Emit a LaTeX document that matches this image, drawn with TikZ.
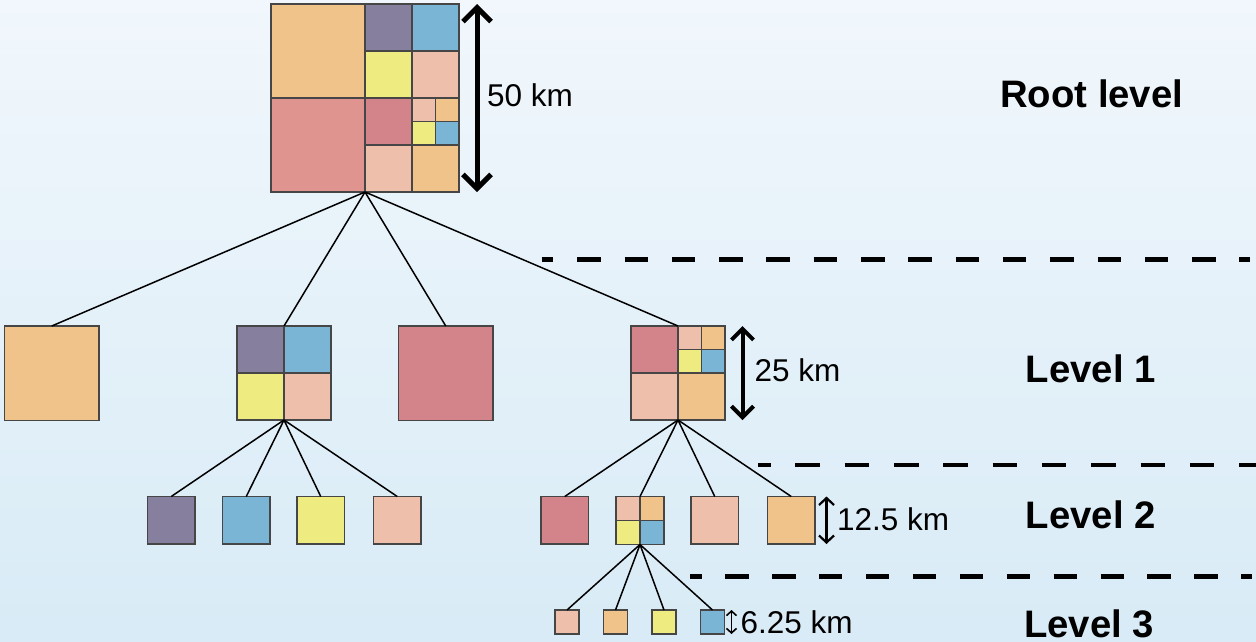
\documentclass[tikz,border=0pt]{standalone}
\usepackage{fontspec}
\setmainfont{Liberation Sans}
\usetikzlibrary{arrows.meta}

\definecolor{bgTop}{RGB}{241,247,252}
\definecolor{bgBot}{RGB}{216,235,246}
\definecolor{cBorder}{RGB}{70,70,70}
\definecolor{cOrange}{RGB}{239,195,138}
\definecolor{cPurple}{RGB}{135,127,158}
\definecolor{cBlue}{RGB}{122,181,213}
\definecolor{cYellow}{RGB}{238,236,128}
\definecolor{cSalmon}{RGB}{238,192,172}
\definecolor{cRedBig}{RGB}{224,148,144}
\definecolor{cRed}{RGB}{210,132,138}

\begin{document}
\begin{tikzpicture}[x=1pt,y=-1pt,
  cell/.style={draw=cBorder, line width=1.1pt, inner sep=0pt, outer sep=0pt,
               anchor=north west, minimum size=#1},
  frame/.style={draw=cBorder, line width=1.2pt, inner sep=0pt, outer sep=0pt,
                anchor=north west, minimum size=#1},
  link/.style={black, line width=1.5pt},
  sepline/.style={black, line width=4.8pt},
  dim/.style={black, line width=#1},
  lbl/.style={font=\fontsize{31.5}{34}\selectfont, inner sep=0pt, anchor=base west},
  lvl/.style={font=\fontsize{38.3}{41}\selectfont\bfseries, inner sep=0pt, anchor=base west}]

% background
\shade[top color=bgTop, bottom color=bgBot] (0,0) rectangle (1256,641);
\useasboundingbox (0,0) rectangle (1256,641);

% ---------- root cell (50 km) ----------
\node[cell=94pt, fill=cOrange] (r-tl) at (271,4) {};
\node[cell=47pt, fill=cPurple] (r-tr-a) at (365,4) {};
\node[cell=47pt, fill=cBlue]   (r-tr-b) at (412,4) {};
\node[cell=47pt, fill=cYellow] (r-tr-c) at (365,51) {};
\node[cell=47pt, fill=cSalmon] (r-tr-d) at (412,51) {};
\node[cell=94pt, fill=cRedBig] (r-bl) at (271,98) {};
\node[cell=47pt, fill=cRed]    (r-br-a) at (365,98) {};
\node[cell=23.5pt, fill=cSalmon] (r-br-b1) at (412,98) {};
\node[cell=23.5pt, fill=cOrange] (r-br-b2) at (435.5,98) {};
\node[cell=23.5pt, fill=cYellow] (r-br-b3) at (412,121.5) {};
\node[cell=23.5pt, fill=cBlue]   (r-br-b4) at (435.5,121.5) {};
\node[cell=47pt, fill=cSalmon] (r-br-c) at (365,145) {};
\node[cell=47pt, fill=cOrange] (r-br-d) at (412,145) {};
\node[frame=188pt] (root) at (271,4) {};

% ---------- level 1 (25 km) ----------
\node[cell=94.5pt, fill=cOrange] (l1a) at (4.5,326) {};

\node[cell=47pt, fill=cPurple] (l1b-a) at (237,326) {};
\node[cell=47pt, fill=cBlue]   (l1b-b) at (284,326) {};
\node[cell=47pt, fill=cYellow] (l1b-c) at (237,373) {};
\node[cell=47pt, fill=cSalmon] (l1b-d) at (284,373) {};
\node[frame=94pt] (l1b) at (237,326) {};

\node[cell=94.5pt, fill=cRed] (l1c) at (398.5,326) {};

\node[cell=47pt, fill=cRed] (l1d-a) at (631,326) {};
\node[cell=23.5pt, fill=cSalmon] (l1d-b1) at (678,326) {};
\node[cell=23.5pt, fill=cOrange] (l1d-b2) at (701.5,326) {};
\node[cell=23.5pt, fill=cYellow] (l1d-b3) at (678,349.5) {};
\node[cell=23.5pt, fill=cBlue]   (l1d-b4) at (701.5,349.5) {};
\node[cell=47pt, fill=cSalmon] (l1d-c) at (631,373) {};
\node[cell=47pt, fill=cOrange] (l1d-d) at (678,373) {};
\node[frame=94pt] (l1d) at (631,326) {};

% ---------- level 2 (12.5 km) ----------
\node[cell=47.5pt, fill=cPurple] (l2a) at (147.5,496.5) {};
\node[cell=47.5pt, fill=cBlue]   (l2b) at (222.5,496.5) {};
\node[cell=47.5pt, fill=cYellow] (l2c) at (297,496.5) {};
\node[cell=47.5pt, fill=cSalmon] (l2d) at (373.5,496.5) {};

\node[cell=47.5pt, fill=cRed] (l2e) at (541,496.5) {};
\node[cell=24pt, fill=cSalmon] (l2f-a) at (616,496.5) {};
\node[cell=24pt, fill=cOrange] (l2f-b) at (640,496.5) {};
\node[cell=24pt, fill=cYellow] (l2f-c) at (616,520.5) {};
\node[cell=24pt, fill=cBlue]   (l2f-d) at (640,520.5) {};
\node[frame=48pt] (l2f) at (616,496.5) {};
\node[cell=47.5pt, fill=cSalmon] (l2g) at (691,496.5) {};
\node[cell=47.5pt, fill=cOrange] (l2h) at (767.5,496.5) {};

% ---------- level 3 (6.25 km) ----------
\node[cell=24pt, fill=cSalmon] (l3a) at (555,610) {};
\node[cell=24pt, fill=cOrange] (l3b) at (603.5,610) {};
\node[cell=24pt, fill=cYellow] (l3c) at (652,610) {};
\node[cell=24pt, fill=cBlue]   (l3d) at (700.5,610) {};

% ---------- tree links ----------
\foreach \c in {l1a,l1b,l1c,l1d} \draw[link] (root.south) -- (\c.north);
\foreach \c in {l2a,l2b,l2c,l2d} \draw[link] (l1b.south) -- (\c.north);
\foreach \c in {l2e,l2f,l2g,l2h} \draw[link] (l1d.south) -- (\c.north);
\foreach \c in {l3a,l3b,l3c,l3d} \draw[link] (l2f.south) -- (\c.north);

% ---------- level separators ----------
\draw[sepline, dash pattern=on 23.5pt off 23.8pt, dash phase=11.8pt] (541.7,259.5) -- (1250,259.5);
\draw[sepline, dash pattern=on 24.5pt off 24.8pt, dash phase=12.2pt] (758.3,465) -- (1256,465);
\draw[sepline, dash pattern=on 23.3pt off 23.6pt, dash phase=11.6pt] (690,576.7) -- (1252,576.7);

% ---------- size markers ----------
\draw[dim=5pt, {Straight Barb[length=14pt,width=28pt]}-{Straight Barb[length=14pt,width=28pt]}]
  ([xshift=18pt]root.north east) -- ([xshift=18pt]root.south east);
\draw[dim=4pt, {Straight Barb[length=11pt,width=22pt]}-{Straight Barb[length=11pt,width=22pt]}]
  ([xshift=17.5pt]l1d.north east) -- ([xshift=17.5pt]l1d.south east);
\draw[dim=2.2pt, {Straight Barb[length=7pt,width=15pt]}-{Straight Barb[length=7pt,width=15pt]}]
  ([xshift=11.5pt]l2h.north east) -- ([xshift=11.5pt]l2h.south east);
\draw[dim=1.6pt, {Straight Barb[length=4.5pt,width=10pt]}-{Straight Barb[length=4.5pt,width=10pt]}]
  ([xshift=7pt]l3d.north east) -- ([xshift=7pt]l3d.south east);

\node[lbl] (t50)  at (487,106)     {50 km};
\node[lbl] (t25)  at (754.5,381.7) {25 km};
\node[lbl] (t125) at (836.8,530.7) {12.5 km};
\node[lbl] (t625) at (740.5,633.3) {6.25 km};

% ---------- level names ----------
\node[lvl] (n0) at (1000,107.3)  {Root level};
\node[lvl] (n1) at (1025.6,382.3) {Level 1};
\node[lvl] (n2) at (1025.6,528.3) {Level 2};
\node[lvl, text depth=0pt] (n3) at (1024,637) {Level 3};

\end{tikzpicture}
\end{document}
